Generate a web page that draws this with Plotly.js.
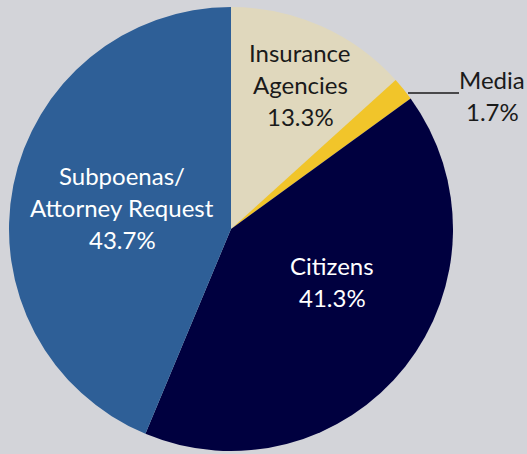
<!DOCTYPE html>
<html>
<head>
<meta charset="utf-8">
<script src="https://cdn.plot.ly/plotly-3.0.1.min.js"></script>
<style>html,body{margin:0;padding:0;background:#d3d4d9;}#chart{width:527px;height:454px;}</style>
</head>
<body>
<div id="chart"></div>
<script>
// Data
const labels = ["Insurance<br>Agencies", "Media", "Citizens", "Subpoenas/<br>Attorney Request"];
const values = [13.3, 1.7, 41.3, 43.7];
const colors = ["#e0d8bd", "#f1c52a", "#00003f", "#2e5f97"];
const textColors = ["#1a1a1a", "#1a1a1a", "#ffffff", "#ffffff"];

// Layout helpers (pixel positions of label blocks)
const W = 527, H = 454;
const labelPos = [[300, 84], [492, 95], [332, 281], [122, 207]];
const lineGap = 32;

const annotations = [];
labels.forEach((lab, i) => {
  const lines = lab.split("<br>").concat([values[i].toFixed(1) + "%"]);
  const n = lines.length;
  lines.forEach((ln, j) => {
    const py = labelPos[i][1] + (j - (n - 1) / 2) * lineGap;
    annotations.push({
      x: labelPos[i][0] / W, y: 1 - py / H, xref: "paper", yref: "paper",
      text: ln, showarrow: false, xanchor: "center", yanchor: "middle",
      font: {family: "Lato, sans-serif", size: 24, color: textColors[i]}
    });
  });
});

const trace = {
  type: "pie",
  labels: labels.map(l => l.replace("<br>", " ")),
  values: values,
  sort: false,
  direction: "clockwise",
  rotation: 0,
  textinfo: "none",
  hoverinfo: "none",
  marker: {colors: colors, line: {width: 0}},
  domain: {x: [9 / W, 453 / W], y: [3 / H, 447 / H]},
  showlegend: false
};

const layout = {
  width: W, height: H,
  margin: {l: 0, r: 0, t: 0, b: 0},
  paper_bgcolor: "#d3d4d9",
  plot_bgcolor: "#d3d4d9",
  showlegend: false,
  annotations: annotations,
  shapes: [{
    type: "line", xref: "paper", yref: "paper",
    x0: 408 / W, x1: 459 / W, y0: 1 - 93 / H, y1: 1 - 93 / H,
    line: {color: "#1a1a1a", width: 1.5}
  }]
};

Plotly.newPlot("chart", [trace], layout, {displayModeBar: false, staticPlot: true});
</script>
</body>
</html>
